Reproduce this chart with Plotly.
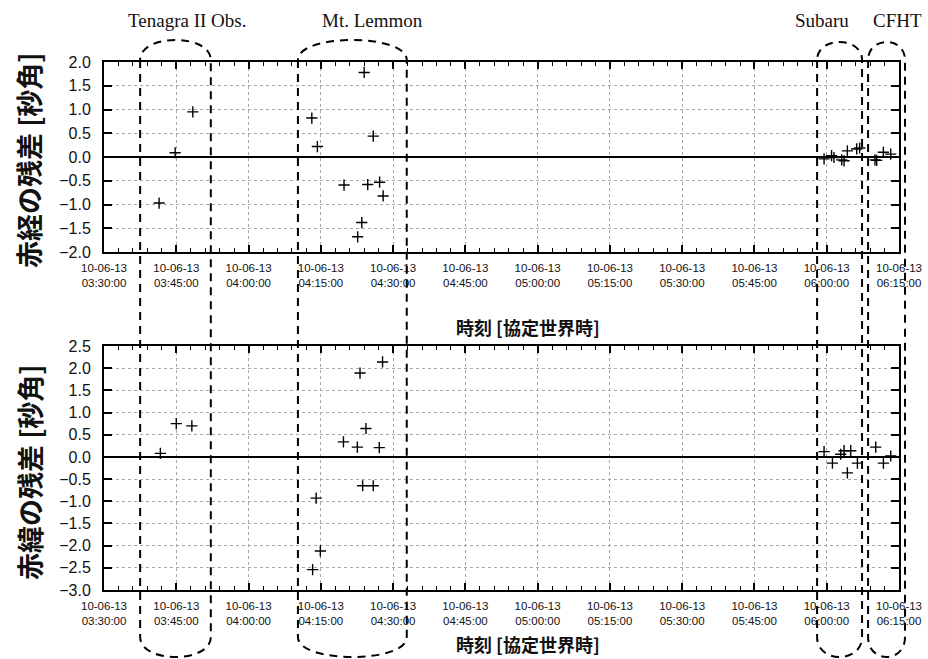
import plotly.graph_objects as go
import pandas as pd

# ---------------- data ----------------
ra_times = ["2010-06-13 03:41:26", "2010-06-13 03:44:46", "2010-06-13 03:48:26",
            "2010-06-13 04:13:08", "2010-06-13 04:14:17", "2010-06-13 04:19:49",
            "2010-06-13 04:22:39", "2010-06-13 04:23:30", "2010-06-13 04:24:00",
            "2010-06-13 04:24:44", "2010-06-13 04:25:53", "2010-06-13 04:27:12",
            "2010-06-13 04:27:56",
            "2010-06-13 05:59:27", "2010-06-13 06:01:00", "2010-06-13 06:01:30",
            "2010-06-13 06:03:07", "2010-06-13 06:03:36", "2010-06-13 06:04:17",
            "2010-06-13 06:06:13", "2010-06-13 06:06:50",
            "2010-06-13 06:10:01", "2010-06-13 06:10:22", "2010-06-13 06:11:45",
            "2010-06-13 06:13:17"]
ra_resid = [-0.97, 0.09, 0.95,
            0.82, 0.22, -0.59,
            -1.68, -1.38, 1.78,
            -0.58, 0.44, -0.53,
            -0.82,
            -0.04, 0.03, -0.01,
            -0.06, -0.08, 0.13,
            0.17, 0.19,
            -0.06, -0.07, 0.10,
            0.06]

dec_times = ["2010-06-13 03:41:42", "2010-06-13 03:45:00", "2010-06-13 03:48:14",
             "2010-06-13 04:13:18", "2010-06-13 04:14:02", "2010-06-13 04:14:54",
             "2010-06-13 04:19:42", "2010-06-13 04:22:35", "2010-06-13 04:23:08",
             "2010-06-13 04:23:41", "2010-06-13 04:24:22", "2010-06-13 04:25:53",
             "2010-06-13 04:27:08", "2010-06-13 04:27:49",
             "2010-06-13 05:59:27", "2010-06-13 06:01:11", "2010-06-13 06:02:54",
             "2010-06-13 06:03:36", "2010-06-13 06:04:17", "2010-06-13 06:04:59",
             "2010-06-13 06:06:22",
             "2010-06-13 06:10:10", "2010-06-13 06:11:46", "2010-06-13 06:13:17"]
dec_resid = [0.08, 0.75, 0.70,
             -2.54, -0.93, -2.12,
             0.34, 0.22, 1.89,
             -0.65, 0.64, -0.65,
             0.21, 2.14,
             0.12, -0.14, 0.06,
             0.14, -0.36, 0.14,
             -0.14,
             0.22, -0.14, 0.02]

x_range = ["2010-06-13 03:30:00", "2010-06-13 06:15:00"]

# observatory groups: name, start, end
obs_names = ["Tenagra II Obs.", "Mt. Lemmon", "Subaru", "CFHT"]
obs_start = ["2010-06-13 03:37:30", "2010-06-13 04:10:15", "2010-06-13 05:58:00", "2010-06-13 06:08:35"]
obs_end = ["2010-06-13 03:52:10", "2010-06-13 04:32:50", "2010-06-13 06:07:20", "2010-06-13 06:16:15"]

ylabel_ra = "赤経の残差 [秒角]"
ylabel_dec = "赤緯の残差 [秒角]"
xlabel = "時刻 [協定世界時]"

# ---------------- layout geometry ----------------
W, H = 928, 659
X0, X1 = 104, 899
TOP = (62, 252)
BOT = (346, 590)

def px_x(p):
    return p / W

def px_y(p):
    return 1 - p / H

xdom = [px_x(X0), px_x(X1)]
top_dom = [px_y(TOP[1]), px_y(TOP[0])]
bot_dom = [px_y(BOT[1]), px_y(BOT[0])]

t0 = pd.Timestamp(x_range[0])
t1 = pd.Timestamp(x_range[1])

def time_to_paper(t):
    f = (pd.Timestamp(t) - t0) / (t1 - t0)
    return xdom[0] + f * (xdom[1] - xdom[0])

fig = go.Figure()
marker = dict(symbol="cross-thin", size=8, color="black",
              line=dict(color="black", width=1.4))
fig.add_trace(go.Scatter(x=ra_times, y=ra_resid, mode="markers", marker=marker,
                         xaxis="x", yaxis="y", showlegend=False))
fig.add_trace(go.Scatter(x=dec_times, y=dec_resid, mode="markers", marker=marker,
                         xaxis="x2", yaxis="y2", showlegend=False))

xcommon = dict(
    type="date", range=x_range, domain=xdom, automargin=False,
    tick0="2010-06-13 03:30:00", dtick=15 * 60 * 1000,
    tickformat="%y-%m-%d<br>%H:%M:%S",
    tickfont=dict(family="Liberation Sans, Arial", size=11.5, color="#111"),
    ticks="inside", ticklen=7, tickwidth=1.5, tickcolor="black",
    minor=dict(dtick=3 * 60 * 1000, ticks="inside", ticklen=4, tickwidth=1,
               tickcolor="black", showgrid=False),
    showline=True, linecolor="black", linewidth=2, mirror="ticks",
    showgrid=True, gridcolor="#a8a8a8", griddash="dot", gridwidth=1,
    zeroline=False, fixedrange=True, ticklabelstandoff=4,
)
ycommon = dict(
    dtick=0.5, tickformat=".1f", automargin=False,
    tickfont=dict(family="Liberation Sans, Arial", size=16, color="#111"),
    ticks="inside", ticklen=8, tickwidth=1.5, tickcolor="black",
    showline=True, linecolor="black", linewidth=2, mirror="ticks",
    showgrid=True, gridcolor="#a8a8a8", griddash="dot", gridwidth=1,
    zeroline=True, zerolinecolor="black", zerolinewidth=1.5,
    ticklabelstandoff=8, fixedrange=True,
)

fig.update_layout(
    width=W, height=H,
    margin=dict(l=0, r=0, t=0, b=0, autoexpand=False),
    paper_bgcolor="white", plot_bgcolor="white",
    xaxis=dict(xcommon, anchor="y"),
    yaxis=dict(ycommon, domain=top_dom, range=[-2.0, 2.0], anchor="x"),
    xaxis2=dict(xcommon, anchor="y2"),
    yaxis2=dict(ycommon, domain=bot_dom, range=[-3.0, 2.5], anchor="x2"),
)

cjk = "Noto Sans CJK JP"
ann = []
base = dict(xref="paper", yref="paper", showarrow=False, xanchor="center", yanchor="middle")
# y-axis titles
ann.append(dict(base, text="<b>" + ylabel_ra + "</b>", textangle=-90, x=px_x(29), y=px_y(160),
                font=dict(family=cjk, size=27, color="#111")))
ann.append(dict(base, text="<b>" + ylabel_dec + "</b>", textangle=-90, x=px_x(29), y=px_y(472),
                font=dict(family=cjk, size=27, color="#111")))
# x-axis titles
for yy in (327, 644):
    ann.append(dict(base, text="<b>" + xlabel + "</b>", x=px_x(528), y=px_y(yy),
                    font=dict(family=cjk, size=18, color="#111")))
# observatory labels
label_x = [187, 372, 822, 897]
for name, lx in zip(obs_names, label_x):
    ann.append(dict(base, text=name, x=px_x(lx), y=px_y(21),
                    font=dict(family="Liberation Serif, Times New Roman", size=19, color="#111")))
fig.update_layout(annotations=ann)

# dashed capsules around observatory groups
peaks_top = [40, 40, 42, 42]
shapes = []
for s, e, pk in zip(obs_start, obs_end, peaks_top):
    xa = time_to_paper(s)
    xb = time_to_paper(e)
    yt = px_y(60)
    yp = px_y(pk)
    yb = px_y(637)
    ybp = px_y(657)
    yc_top = (4 * yp - yt) / 3
    yc_bot = (4 * ybp - yb) / 3
    path = (f"M {xa},{yt} L {xa},{yb} "
            f"C {xa},{yc_bot} {xb},{yc_bot} {xb},{yb} "
            f"L {xb},{yt} "
            f"C {xb},{yc_top} {xa},{yc_top} {xa},{yt}")
    shapes.append(dict(type="path", path=path, xref="paper", yref="paper",
                       line=dict(color="black", width=2, dash="8px,6px"),
                       layer="above"))
fig.update_layout(shapes=shapes)

fig.write_html("out.html")
